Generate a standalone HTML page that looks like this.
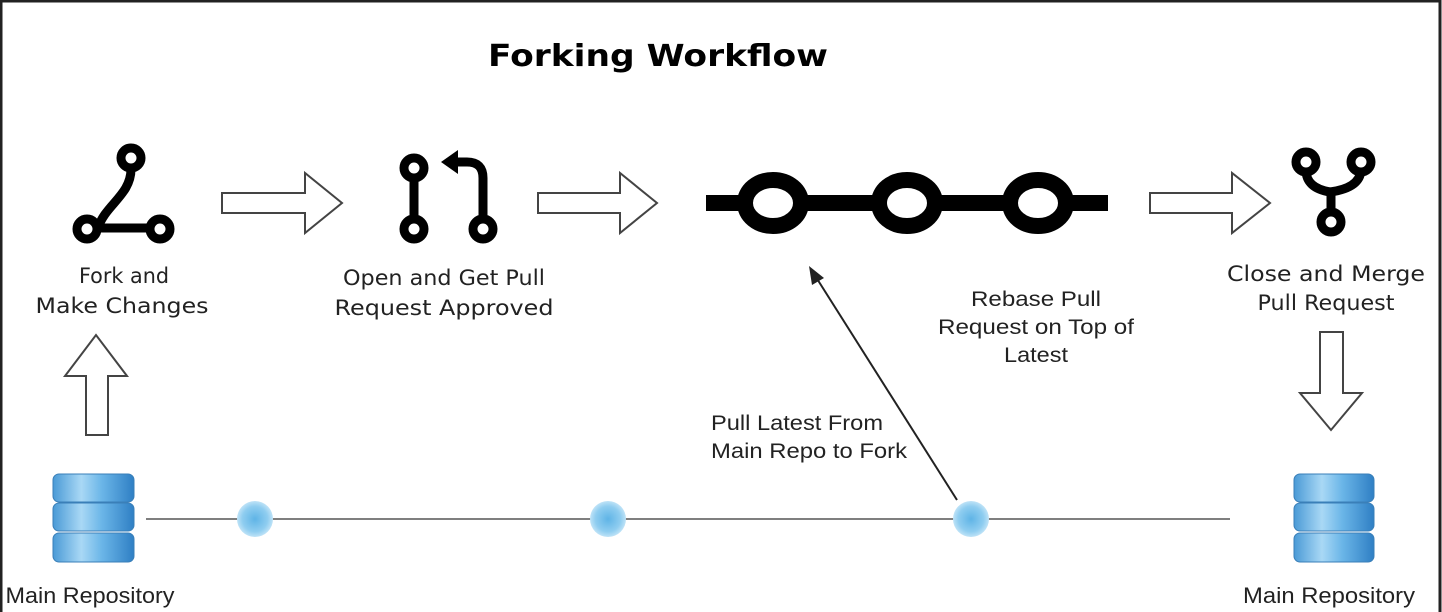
<!DOCTYPE html>
<html><head><meta charset="utf-8"><style>
html,body{margin:0;padding:0;background:#fff;}
svg{display:block;}
text{font-family:"DejaVu Sans","Liberation Sans",sans-serif;fill:#222;}
.a{font-family:"Liberation Sans",sans-serif;}
</style></head><body>
<svg width="1442" height="612" viewBox="0 0 1442 612" xmlns="http://www.w3.org/2000/svg">
<defs>
<linearGradient id="db" x1="0" x2="1" y1="0" y2="0">
<stop offset="0" stop-color="#4a9ad6"/><stop offset="0.35" stop-color="#a9d8f5"/><stop offset="0.6" stop-color="#6bb6e8"/><stop offset="1" stop-color="#2f7fc4"/>
</linearGradient>
<radialGradient id="dot"><stop offset="0" stop-color="#5fb4e6"/><stop offset="0.7" stop-color="#8fcdf0"/><stop offset="1" stop-color="#bfe3f7"/></radialGradient>
</defs>
<rect x="0" y="0" width="1442" height="612" fill="#fff"/>
<rect x="1" y="1" width="1439" height="620" fill="none" stroke="#222" stroke-width="3"/>
<text x="658" y="66" text-anchor="middle" font-size="30" font-weight="bold" style="font-family:'DejaVu Sans',sans-serif;fill:#000" textLength="340" lengthAdjust="spacingAndGlyphs">Forking Workflow</text>

<g fill="none" stroke="#000" stroke-width="9">
<path d="M131 169 C131 195 105 205 98 228 L150 228"/>
<circle cx="131" cy="158" r="10" fill="#fff"/>
<circle cx="87" cy="229" r="10" fill="#fff"/>
<circle cx="160" cy="229" r="10" fill="#fff"/>
</g>
<g fill="none" stroke="#000" stroke-width="9">
<line x1="414" y1="178" x2="414" y2="219"/>
<path d="M483 219 L483 178 Q483 162 467 162 L455 162"/>
<circle cx="414" cy="168" r="10" fill="#fff"/>
<circle cx="414" cy="229" r="10" fill="#fff"/>
<circle cx="483" cy="229" r="10" fill="#fff"/>
</g>
<polygon points="441,162 458,150 458,174" fill="#000"/>
<rect x="706" y="195" width="402" height="16" fill="#000"/>
<g fill="#fff" stroke="#000" stroke-width="16">
<ellipse cx="773" cy="203" rx="28" ry="23"/>
<ellipse cx="907" cy="203" rx="28" ry="23"/>
<ellipse cx="1038" cy="203" rx="28" ry="23"/>
</g>
<g fill="none" stroke="#000" stroke-width="9">
<path d="M1306 170 Q1306 188 1330 192 Q1360 188 1361 170"/>
<line x1="1331" y1="192" x2="1331" y2="212"/>
<circle cx="1306" cy="162" r="10" fill="#fff"/>
<circle cx="1361" cy="162" r="10" fill="#fff"/>
<circle cx="1331" cy="222" r="10" fill="#fff"/>
</g>

<g fill="#fff" stroke="#444" stroke-width="2">
<polygon points="222,193 305,193 305,173 342,203 305,233 305,213 222,213"/>
<polygon points="538,193 620,193 620,173 657,203 620,233 620,213 538,213"/>
<polygon points="1150,193 1232,193 1232,173 1270,203 1232,233 1232,213 1150,213"/>
<polygon points="86,435 86,376 65,376 96,335 127,376 108,376 108,435"/>
<polygon points="1320,332 1343,332 1343,393 1362,393 1331,430 1300,393 1320,393"/>
</g>

<text x="124" y="283" text-anchor="middle" textLength="90" lengthAdjust="spacingAndGlyphs" font-size="21">Fork and</text>
<text x="122" y="313" text-anchor="middle" textLength="173" lengthAdjust="spacingAndGlyphs" font-size="21">Make Changes</text>
<text x="444" y="285" text-anchor="middle" textLength="202" lengthAdjust="spacingAndGlyphs" font-size="21">Open and Get Pull</text>
<text x="444" y="315" text-anchor="middle" textLength="219" lengthAdjust="spacingAndGlyphs" font-size="21">Request Approved</text>
<text x="1326" y="281" text-anchor="middle" textLength="198" lengthAdjust="spacingAndGlyphs" font-size="21">Close and Merge</text>
<text x="1326" y="310" text-anchor="middle" textLength="137" lengthAdjust="spacingAndGlyphs" font-size="21">Pull Request</text>
<text class="a" x="1036" y="306" text-anchor="middle" textLength="130" lengthAdjust="spacingAndGlyphs" font-size="21">Rebase Pull</text>
<text class="a" x="1036" y="334" text-anchor="middle" textLength="196" lengthAdjust="spacingAndGlyphs" font-size="21">Request on Top of</text>
<text class="a" x="1036" y="362" text-anchor="middle" textLength="64" lengthAdjust="spacingAndGlyphs" font-size="21">Latest</text>
<text class="a" x="711" y="430" textLength="172" lengthAdjust="spacingAndGlyphs" font-size="21">Pull Latest From</text>
<text class="a" x="711" y="458" textLength="196" lengthAdjust="spacingAndGlyphs" font-size="21">Main Repo to Fork</text>

<line x1="146" y1="519" x2="1230" y2="519" stroke="#555" stroke-width="1.5"/>
<circle cx="255" cy="519" r="18" fill="url(#dot)"/>
<circle cx="608" cy="519" r="18" fill="url(#dot)"/>
<circle cx="971" cy="519" r="18" fill="url(#dot)"/>
<line x1="957" y1="500" x2="814" y2="274" stroke="#222" stroke-width="2"/>
<polygon points="809,266 824,278 812,285" fill="#222"/>

<g>
<rect x="53" y="474" width="81" height="28" rx="6" fill="url(#db)" stroke="#3a7fb8"/>
<rect x="53" y="503" width="81" height="28" rx="6" fill="url(#db)" stroke="#3a7fb8"/>
<rect x="53" y="533" width="81" height="29" rx="6" fill="url(#db)" stroke="#3a7fb8"/>
<rect x="1294" y="474" width="80" height="28" rx="6" fill="url(#db)" stroke="#3a7fb8"/>
<rect x="1294" y="503" width="80" height="28" rx="6" fill="url(#db)" stroke="#3a7fb8"/>
<rect x="1294" y="533" width="80" height="29" rx="6" fill="url(#db)" stroke="#3a7fb8"/>
</g>
<text class="a" x="90" y="603" text-anchor="middle" font-size="22" textLength="169" lengthAdjust="spacingAndGlyphs">Main Repository</text>
<text class="a" x="1329" y="603" text-anchor="middle" font-size="22" textLength="172" lengthAdjust="spacingAndGlyphs">Main Repository</text>
</svg>
</body></html>
